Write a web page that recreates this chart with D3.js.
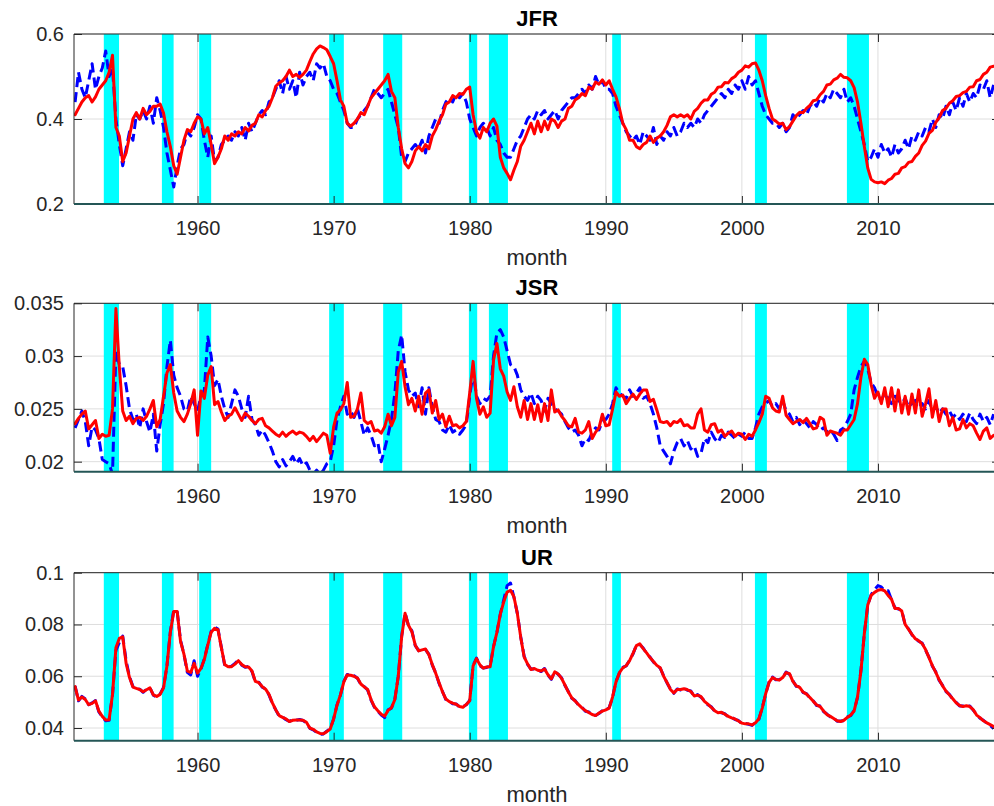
<!DOCTYPE html>
<html>
<head>
<meta charset="utf-8">
<script src="https://cdn.jsdelivr.net/npm/d3@7"></script>
<style>
  body { margin: 0; background: #fff; }
  svg { display: block; font-family: "Liberation Sans", Arial, sans-serif; }
</style>
</head>
<body>
<div id="chart"></div>
<script>
// quarterly observations, first one is 1951 Q1
const startYear = 1951;
const step = 0.25;

// recession shading (years)
const recStart = [1953.11, 1957.38, 1960.12, 1969.67, 1973.64, 1979.94, 1981.41, 1990.47, 2000.96, 2007.72];
const recEnd   = [1954.23, 1958.24, 1961.00, 1970.75, 1975.04, 1980.55, 1982.81, 1991.11, 2001.84, 2009.34];

const xTicks = [1960, 1970, 1980, 1990, 2000, 2010];

const jfrTicks = [0.2, 0.4, 0.6];
const jfrLabels = ["0.2", "0.4", "0.6"];
const jsrTicks = [0.02, 0.025, 0.03, 0.035];
const jsrLabels = ["0.02", "0.025", "0.03", "0.035"];
const urTicks = [0.04, 0.06, 0.08, 0.1];
const urLabels = ["0.04", "0.06", "0.08", "0.1"];

// job finding rate: data (blue) and model (red)
const jfrData = [
  0.44,0.51,0.47,0.45, 0.49,0.53,0.47,0.50, 0.52,0.56,0.50,0.52, 0.40,0.34,0.29,0.33,
  0.37,0.35,0.41,0.40, 0.42,0.40,0.43,0.39, 0.45,0.42,0.38,0.32, 0.28,0.24,0.29,0.33,
  0.34,0.37,0.36,0.38, 0.41,0.40,0.35,0.31, 0.36,0.30,0.31,0.34, 0.35,0.36,0.35,0.37,
  0.36,0.38,0.35,0.39, 0.37,0.39,0.41,0.42, 0.41,0.44,0.45,0.47, 0.49,0.46,0.50,0.47,
  0.49,0.45,0.51,0.48, 0.50,0.51,0.49,0.53, 0.52,0.53,0.50,0.49, 0.47,0.46,0.44,0.42,
  0.39,0.38,0.38,0.40, 0.41,0.42,0.43,0.45, 0.47,0.46,0.45,0.46, 0.47,0.44,0.41,0.38,
  0.31,0.30,0.32,0.33, 0.34,0.33,0.35,0.32, 0.36,0.38,0.40,0.39, 0.42,0.44,0.45,0.44,
  0.46,0.45,0.46,0.44, 0.40,0.38,0.36,0.38, 0.39,0.38,0.36,0.38, 0.35,0.34,0.32,0.31,
  0.31,0.33,0.35,0.36, 0.38,0.40,0.41,0.40, 0.42,0.41,0.42,0.40, 0.41,0.42,0.40,0.42,
  0.43,0.44,0.45,0.45, 0.46,0.47,0.46,0.48, 0.47,0.50,0.48,0.49, 0.47,0.47,0.46,0.43,
  0.41,0.39,0.37,0.36, 0.35,0.36,0.34,0.37, 0.36,0.35,0.38,0.34, 0.36,0.35,0.37,0.36,
  0.38,0.36,0.37,0.39, 0.38,0.39,0.38,0.40, 0.39,0.41,0.42,0.43, 0.44,0.45,0.46,0.45,
  0.47,0.46,0.48,0.47, 0.49,0.47,0.50,0.48, 0.49,0.46,0.43,0.41, 0.40,0.39,0.39,0.38,
  0.39,0.37,0.38,0.41, 0.40,0.41,0.42,0.41, 0.43,0.44,0.43,0.45, 0.44,0.46,0.45,0.47,
  0.46,0.45,0.47,0.44, 0.45,0.43,0.40,0.37, 0.34,0.30,0.31,0.33, 0.31,0.34,0.32,0.33,
  0.31,0.34,0.32,0.33, 0.35,0.33,0.36,0.35, 0.37,0.36,0.38,0.37, 0.40,0.38,0.41,0.40,
  0.43,0.41,0.44,0.42, 0.45,0.43,0.46,0.44, 0.46,0.45,0.48,0.47, 0.49,0.45,0.48
];
const jfrFit = [
  0.41,0.425,0.44,0.45, 0.455,0.44,0.452,0.47, 0.48,0.49,0.51,0.55, 0.38,0.36,0.30,0.32,
  0.36,0.40,0.415,0.40, 0.425,0.41,0.418,0.43, 0.43,0.435,0.414,0.37, 0.335,0.29,0.27,0.31,
  0.35,0.375,0.37,0.39, 0.405,0.40,0.365,0.38, 0.34,0.295,0.31,0.33, 0.36,0.35,0.365,0.36,
  0.37,0.365,0.38,0.372, 0.385,0.39,0.41,0.405, 0.42,0.43,0.45,0.477, 0.485,0.49,0.50,0.515,
  0.50,0.505,0.498,0.505, 0.515,0.535,0.553,0.565, 0.572,0.568,0.563,0.547, 0.53,0.49,0.445,0.43,
  0.39,0.383,0.39,0.40, 0.415,0.41,0.43,0.45, 0.46,0.47,0.48,0.49, 0.505,0.465,0.45,0.38,
  0.33,0.295,0.285,0.30, 0.325,0.335,0.325,0.34, 0.33,0.36,0.375,0.395, 0.41,0.435,0.44,0.455,
  0.45,0.46,0.458,0.47, 0.475,0.41,0.37,0.355, 0.38,0.37,0.39,0.40, 0.383,0.31,0.285,0.272,
  0.257,0.28,0.30,0.336, 0.35,0.37,0.39,0.365, 0.395,0.37,0.395,0.375, 0.40,0.395,0.38,0.395,
  0.40,0.425,0.43,0.445, 0.45,0.46,0.455,0.475, 0.47,0.487,0.482,0.492, 0.48,0.49,0.47,0.452,
  0.425,0.39,0.375,0.35, 0.35,0.335,0.33,0.34, 0.345,0.36,0.345,0.355, 0.36,0.37,0.385,0.405,
  0.41,0.405,0.41,0.405, 0.41,0.40,0.418,0.425, 0.437,0.445,0.445,0.458, 0.463,0.475,0.476,0.486,
  0.485,0.495,0.50,0.51, 0.515,0.525,0.522,0.53, 0.532,0.515,0.49,0.455, 0.425,0.40,0.395,0.388,
  0.39,0.375,0.382,0.395, 0.408,0.416,0.415,0.425, 0.432,0.443,0.445,0.457, 0.465,0.48,0.482,0.492,
  0.496,0.505,0.498,0.497, 0.49,0.474,0.44,0.39, 0.335,0.285,0.258,0.252, 0.25,0.252,0.248,0.256,
  0.26,0.27,0.272,0.285, 0.288,0.298,0.30,0.312, 0.32,0.338,0.348,0.366, 0.373,0.392,0.403,0.42,
  0.425,0.437,0.443,0.453, 0.455,0.462,0.465,0.475, 0.476,0.49,0.493,0.505, 0.51,0.522,0.524
];

// job separation rate
const jsrData = [
  0.0232,0.0240,0.0248,0.0238, 0.0215,0.0233,0.0230,0.0222, 0.0202,0.0200,0.0198,0.0188, 0.0305,0.0292,0.0290,0.0272,
  0.0250,0.0240,0.0245,0.0232, 0.0250,0.0238,0.0228,0.0245, 0.0210,0.0235,0.0255,0.0290, 0.0315,0.0282,0.0270,0.0262,
  0.0250,0.0248,0.0262,0.0255, 0.0248,0.0262,0.0268,0.0318, 0.0300,0.0272,0.0278,0.0262, 0.0250,0.0242,0.0255,0.0268,
  0.0262,0.0250,0.0242,0.0262, 0.0240,0.0235,0.0225,0.0230, 0.0225,0.0218,0.0210,0.0200, 0.0195,0.0202,0.0196,0.0200,
  0.0205,0.0198,0.0203,0.0196, 0.0199,0.0192,0.0188,0.0192, 0.0188,0.0192,0.0198,0.0200, 0.0215,0.0240,0.0252,0.0262,
  0.0245,0.0248,0.0242,0.0250, 0.0238,0.0225,0.0232,0.0225, 0.0215,0.0218,0.0200,0.0212, 0.0225,0.0240,0.0265,0.0305,
  0.0320,0.0285,0.0268,0.0262, 0.0265,0.0252,0.0270,0.0245, 0.0270,0.0252,0.0240,0.0238, 0.0230,0.0228,0.0235,0.0228,
  0.0230,0.0226,0.0230,0.0235, 0.0262,0.0285,0.0262,0.0255, 0.0260,0.0258,0.0262,0.0300, 0.0322,0.0325,0.0318,0.0305,
  0.0292,0.0290,0.0282,0.0268, 0.0262,0.0258,0.0265,0.0255, 0.0262,0.0258,0.0248,0.0260, 0.0255,0.0250,0.0248,0.0245,
  0.0238,0.0232,0.0228,0.0230, 0.0225,0.0215,0.0222,0.0220, 0.0228,0.0232,0.0230,0.0238, 0.0240,0.0245,0.0255,0.0270,
  0.0265,0.0262,0.0260,0.0268, 0.0262,0.0265,0.0270,0.0260, 0.0262,0.0255,0.0245,0.0232, 0.0215,0.0210,0.0205,0.0198,
  0.0210,0.0218,0.0222,0.0215, 0.0220,0.0212,0.0215,0.0205, 0.0208,0.0222,0.0218,0.0228, 0.0222,0.0218,0.0225,0.0223,
  0.0228,0.0225,0.0222,0.0226, 0.0224,0.0228,0.0222,0.0222, 0.0232,0.0245,0.0252,0.0255, 0.0258,0.0252,0.0255,0.0250,
  0.0258,0.0248,0.0245,0.0238, 0.0242,0.0235,0.0240,0.0236, 0.0232,0.0238,0.0235,0.0230, 0.0232,0.0228,0.0230,0.0226,
  0.0220,0.0230,0.0232,0.0238, 0.0245,0.0268,0.0280,0.0290, 0.0295,0.0288,0.0275,0.0270, 0.0262,0.0258,0.0265,0.0260,
  0.0255,0.0262,0.0258,0.0255, 0.0260,0.0252,0.0255,0.0258, 0.0252,0.0255,0.0250,0.0258, 0.0248,0.0252,0.0246,0.0250,
  0.0245,0.0248,0.0242,0.0245, 0.0240,0.0245,0.0238,0.0246, 0.0240,0.0236,0.0245,0.0238, 0.0242,0.0235,0.0245
];
const jsrFit = [
  0.0236,0.0241,0.0245,0.0248, 0.0231,0.0235,0.0239,0.0222, 0.0226,0.0224,0.0225,0.0250, 0.0345,0.0290,0.0248,0.0239,
  0.0243,0.0236,0.0241,0.0242, 0.0239,0.0243,0.0250,0.0258, 0.0233,0.0240,0.0262,0.0284, 0.0292,0.0265,0.0248,0.0242,
  0.0238,0.0245,0.0255,0.0268, 0.0225,0.0267,0.0260,0.0282, 0.0290,0.0254,0.0257,0.0247, 0.0239,0.0243,0.0245,0.0251,
  0.0245,0.0239,0.0246,0.0243, 0.0239,0.0236,0.0240,0.0241, 0.0234,0.0232,0.0229,0.0226, 0.0224,0.0228,0.0224,0.0227,
  0.0229,0.0226,0.0228,0.0227, 0.0224,0.0220,0.0224,0.0219, 0.0223,0.0227,0.0225,0.0208, 0.0233,0.0246,0.0249,0.0255,
  0.0275,0.0242,0.0243,0.0250, 0.0265,0.0239,0.0236,0.0238, 0.0229,0.0230,0.0227,0.0233, 0.0245,0.0234,0.0242,0.0285,
  0.0295,0.0271,0.0254,0.0260, 0.0248,0.0262,0.0245,0.0265, 0.0268,0.0246,0.0258,0.0240, 0.0245,0.0233,0.0243,0.0234,
  0.0235,0.0232,0.0234,0.0238, 0.0265,0.0295,0.0260,0.0245, 0.0252,0.0242,0.0246,0.0296, 0.0312,0.0288,0.0281,0.0266,
  0.0258,0.0271,0.0252,0.0242, 0.0258,0.0240,0.0255,0.0240, 0.0254,0.0238,0.0255,0.0239, 0.0268,0.0247,0.0249,0.0243,
  0.0239,0.0234,0.0233,0.0241, 0.0228,0.0227,0.0230,0.0238, 0.0222,0.0228,0.0232,0.0245, 0.0234,0.0235,0.0250,0.0266,
  0.0262,0.0263,0.0255,0.0260, 0.0264,0.0259,0.0264,0.0268, 0.0268,0.0257,0.0259,0.0249, 0.0238,0.0237,0.0238,0.0234,
  0.0238,0.0237,0.0240,0.0234, 0.0235,0.0232,0.0232,0.0245, 0.0250,0.0230,0.0228,0.0235, 0.0236,0.0228,0.0230,0.0224,
  0.0227,0.0229,0.0224,0.0227, 0.0226,0.0221,0.0226,0.0224, 0.0230,0.0237,0.0245,0.0262, 0.0260,0.0251,0.0248,0.0247,
  0.0262,0.0244,0.0240,0.0236, 0.0238,0.0240,0.0237,0.0241, 0.0236,0.0231,0.0232,0.0242, 0.0240,0.0225,0.0229,0.0228,
  0.0227,0.0225,0.0230,0.0230, 0.0235,0.0240,0.0255,0.0280, 0.0297,0.0292,0.0273,0.0260, 0.0266,0.0255,0.0270,0.0252,
  0.0270,0.0248,0.0268,0.0246, 0.0262,0.0245,0.0264,0.0246, 0.0268,0.0243,0.0255,0.0269, 0.0242,0.0258,0.0238,0.0250,
  0.0250,0.0234,0.0242,0.0230, 0.0231,0.0240,0.0232,0.0236, 0.0234,0.0227,0.0221,0.0229, 0.0232,0.0222,0.0225
];

// unemployment rate
const urData = [
  0.0562,0.0505,0.0522,0.0512, 0.0490,0.0497,0.0506,0.0462, 0.0443,0.0428,0.0430,0.0528, 0.0700,0.0730,0.0755,0.0660,
  0.0598,0.0560,0.0551,0.0550, 0.0538,0.0550,0.0556,0.0527, 0.0520,0.0532,0.0557,0.0640, 0.0772,0.0855,0.0852,0.0738,
  0.0685,0.0615,0.0605,0.0660, 0.0600,0.0628,0.0668,0.0722, 0.0773,0.0790,0.0782,0.0712, 0.0640,0.0635,0.0639,0.0650,
  0.0662,0.0643,0.0635,0.0638, 0.0618,0.0578,0.0577,0.0558, 0.0551,0.0528,0.0495,0.0470, 0.0445,0.0442,0.0432,0.0426,
  0.0432,0.0430,0.0433,0.0429, 0.0420,0.0399,0.0393,0.0383, 0.0376,0.0377,0.0388,0.0398, 0.0435,0.0490,0.0527,0.0580,
  0.0607,0.0603,0.0602,0.0592, 0.0568,0.0560,0.0547,0.0508, 0.0480,0.0465,0.0450,0.0440, 0.0470,0.0477,0.0512,0.0600,
  0.0755,0.0845,0.0795,0.0775, 0.0718,0.0699,0.0705,0.0703, 0.0685,0.0643,0.0613,0.0572, 0.0541,0.0510,0.0503,0.0494,
  0.0493,0.0481,0.0482,0.0490, 0.0507,0.0642,0.0670,0.0641, 0.0632,0.0634,0.0640,0.0714, 0.0770,0.0840,0.0895,0.0950,
  0.0960,0.0905,0.0843,0.0752, 0.0677,0.0646,0.0628,0.0628, 0.0625,0.0618,0.0630,0.0604, 0.0588,0.0619,0.0607,0.0594,
  0.0564,0.0541,0.0515,0.0506, 0.0488,0.0480,0.0465,0.0462, 0.0450,0.0449,0.0456,0.0467, 0.0468,0.0479,0.0518,0.0580,
  0.0612,0.0634,0.0640,0.0662, 0.0686,0.0720,0.0723,0.0709, 0.0688,0.0674,0.0655,0.0644, 0.0631,0.0602,0.0574,0.0551,
  0.0534,0.0551,0.0547,0.0554, 0.0546,0.0543,0.0522,0.0529, 0.0519,0.0505,0.0490,0.0482, 0.0465,0.0461,0.0459,0.0455,
  0.0443,0.0441,0.0433,0.0429, 0.0417,0.0418,0.0414,0.0410, 0.0422,0.0434,0.0479,0.0531, 0.0578,0.0597,0.0586,0.0587,
  0.0593,0.0616,0.0608,0.0582, 0.0561,0.0559,0.0537,0.0533, 0.0516,0.0505,0.0487,0.0485, 0.0464,0.0454,0.0443,0.0439,
  0.0426,0.0427,0.0428,0.0443, 0.0448,0.0468,0.0518,0.0622, 0.0765,0.0875,0.0915,0.0935, 0.0950,0.0945,0.0930,0.0930,
  0.0895,0.0864,0.0860,0.0854, 0.0798,0.0783,0.0760,0.0747, 0.0735,0.0728,0.0701,0.0674, 0.0639,0.0617,0.0584,0.0565,
  0.0541,0.0530,0.0511,0.0499, 0.0485,0.0485,0.0484,0.0485, 0.0469,0.0452,0.0438,0.0430, 0.0418,0.0410,0.0398
];
const urFit = [
  0.0560,0.0508,0.0520,0.0510, 0.0490,0.0495,0.0505,0.0465, 0.0445,0.0431,0.0432,0.0530, 0.0710,0.0746,0.0752,0.0650,
  0.0595,0.0558,0.0553,0.0549, 0.0540,0.0548,0.0555,0.0528, 0.0522,0.0530,0.0555,0.0640, 0.0770,0.0850,0.0850,0.0735,
  0.0685,0.0620,0.0615,0.0650, 0.0612,0.0630,0.0665,0.0720, 0.0770,0.0785,0.0780,0.0710, 0.0645,0.0637,0.0637,0.0647,
  0.0660,0.0645,0.0637,0.0636, 0.0620,0.0580,0.0575,0.0560, 0.0550,0.0530,0.0497,0.0470, 0.0448,0.0441,0.0435,0.0425,
  0.0430,0.0431,0.0431,0.0430, 0.0422,0.0400,0.0395,0.0385, 0.0379,0.0378,0.0386,0.0396, 0.0435,0.0488,0.0528,0.0578,
  0.0605,0.0604,0.0600,0.0593, 0.0570,0.0559,0.0549,0.0510, 0.0482,0.0467,0.0453,0.0446, 0.0468,0.0478,0.0510,0.0600,
  0.0753,0.0843,0.0797,0.0772, 0.0720,0.0698,0.0702,0.0705, 0.0683,0.0645,0.0612,0.0575, 0.0540,0.0512,0.0502,0.0496,
  0.0492,0.0483,0.0480,0.0491, 0.0505,0.0640,0.0668,0.0644, 0.0631,0.0636,0.0637,0.0714, 0.0770,0.0840,0.0887,0.0925,
  0.0932,0.0907,0.0843,0.0750, 0.0675,0.0648,0.0626,0.0630, 0.0623,0.0620,0.0628,0.0606, 0.0590,0.0617,0.0609,0.0592,
  0.0566,0.0539,0.0517,0.0504, 0.0490,0.0478,0.0467,0.0460, 0.0452,0.0448,0.0458,0.0465, 0.0470,0.0477,0.0520,0.0578,
  0.0614,0.0632,0.0641,0.0660, 0.0688,0.0718,0.0725,0.0707, 0.0690,0.0672,0.0657,0.0642, 0.0633,0.0600,0.0576,0.0549,
  0.0536,0.0549,0.0549,0.0552, 0.0548,0.0541,0.0524,0.0527, 0.0521,0.0503,0.0492,0.0480, 0.0467,0.0459,0.0461,0.0453,
  0.0445,0.0439,0.0435,0.0427, 0.0419,0.0416,0.0416,0.0412, 0.0420,0.0436,0.0477,0.0533, 0.0576,0.0595,0.0588,0.0585,
  0.0595,0.0614,0.0610,0.0580, 0.0563,0.0557,0.0539,0.0531, 0.0518,0.0503,0.0489,0.0483, 0.0466,0.0452,0.0445,0.0437,
  0.0428,0.0425,0.0430,0.0441, 0.0450,0.0466,0.0520,0.0620, 0.0765,0.0875,0.0912,0.0924, 0.0932,0.0935,0.0930,0.0912,
  0.0897,0.0862,0.0862,0.0852, 0.0800,0.0781,0.0762,0.0745, 0.0737,0.0726,0.0703,0.0672, 0.0641,0.0615,0.0586,0.0563,
  0.0543,0.0528,0.0513,0.0497, 0.0487,0.0483,0.0486,0.0483, 0.0471,0.0450,0.0440,0.0428, 0.0420,0.0413,0.0406
];

const width = 994;
const height = 806;
const left = 74;
const right = 1000;
const ink = "#262626";

const svg = d3.select("#chart").append("svg").attr("width", width).attr("height", height);
svg.append("rect").attr("width", width).attr("height", height).attr("fill", "#fff");

const x = d3.scaleLinear().domain([1950.92, 2018.97]).range([left, right]);

const panels = [
  { title: "JFR", top: 34, bottom: 204, domain: [0.2, 0.6], ticks: jfrTicks, labels: jfrLabels, blue: jfrData, red: jfrFit },
  { title: "JSR", top: 303.3, bottom: 471.7, domain: [0.01905, 0.035], ticks: jsrTicks, labels: jsrLabels, blue: jsrData, red: jsrFit },
  { title: "UR", top: 572.7, bottom: 740.7, domain: [0.0351, 0.1], ticks: urTicks, labels: urLabels, blue: urData, red: urFit }
];

panels.forEach((p, i) => {
  const y = d3.scaleLinear().domain(p.domain).range([p.bottom, p.top]);
  const h = p.bottom - p.top;
  const g = svg.append("g");

  svg.append("clipPath").attr("id", "clip" + i)
    .append("rect").attr("x", left).attr("y", p.top).attr("width", right - left).attr("height", h);

  // grid
  g.selectAll(".vgrid").data(xTicks).join("line")
    .attr("x1", d => x(d)).attr("x2", d => x(d))
    .attr("y1", p.top).attr("y2", p.bottom)
    .attr("stroke", "#dedede").attr("stroke-width", 1);
  g.selectAll(".hgrid").data(p.ticks).join("line")
    .attr("x1", left).attr("x2", right)
    .attr("y1", d => y(d)).attr("y2", d => y(d))
    .attr("stroke", "#dedede").attr("stroke-width", 1);

  // recession bands
  g.append("g").selectAll("rect").data(recStart).join("rect")
    .attr("x", d => x(d))
    .attr("width", (d, k) => x(recEnd[k]) - x(d))
    .attr("y", p.top).attr("height", h)
    .attr("fill", "#00ffff");

  const line = d3.line()
    .x((d, k) => x(startYear + k * step))
    .y(d => y(d));

  const lines = g.append("g").attr("clip-path", `url(#clip${i})`);
  lines.append("path").datum(p.blue)
    .attr("d", line).attr("fill", "none")
    .attr("stroke", "#0000ff").attr("stroke-width", 3)
    .attr("stroke-dasharray", "10,5")
    .attr("stroke-linejoin", "round");
  lines.append("path").datum(p.red)
    .attr("d", line).attr("fill", "none")
    .attr("stroke", "#ff0000").attr("stroke-width", 3)
    .attr("stroke-linejoin", "round").attr("stroke-linecap", "round");

  // axes
  const ax = g.append("g").attr("transform", `translate(0,${p.bottom})`)
    .call(d3.axisBottom(x).tickValues(xTicks).tickFormat(d3.format("d"))
      .tickSizeInner(-8).tickSizeOuter(0).tickPadding(17));
  const axTop = g.append("g").attr("transform", `translate(0,${p.top})`)
    .call(d3.axisTop(x).tickValues(xTicks).tickFormat("").tickSizeInner(-8).tickSizeOuter(0));
  const ay = g.append("g").attr("transform", `translate(${left},0)`)
    .call(d3.axisLeft(y).tickValues(p.ticks).tickFormat((d, k) => p.labels[k])
      .tickSizeInner(-8).tickSizeOuter(0).tickPadding(10));
  const ayR = g.append("g").attr("transform", `translate(${right},0)`)
    .call(d3.axisRight(y).tickValues(p.ticks).tickFormat("").tickSizeInner(-8).tickSizeOuter(0));

  [ax, axTop, ay, ayR].forEach(a => {
    a.select(".domain").remove();
    a.selectAll("line").attr("stroke", ink);
    a.selectAll("text").attr("fill", ink)
      .style("font-family", '"Liberation Sans", Arial, sans-serif')
      .style("font-size", "20px");
  });

  // box
  g.append("line").attr("x1", left).attr("x2", right).attr("y1", p.top).attr("y2", p.top)
    .attr("stroke", ink).attr("stroke-width", 1);
  g.append("line").attr("x1", left).attr("x2", left).attr("y1", p.top).attr("y2", p.bottom)
    .attr("stroke", ink).attr("stroke-width", 1);
  g.append("line").attr("x1", left).attr("x2", right).attr("y1", p.bottom).attr("y2", p.bottom)
    .attr("stroke", "#245656").attr("stroke-width", 2);

  // title and x label
  g.append("text").attr("x", (left + right) / 2).attr("y", p.top - 8)
    .attr("text-anchor", "middle").attr("font-weight", "bold")
    .attr("font-size", 22).attr("fill", "#000").text(p.title);
  g.append("text").attr("x", (left + right) / 2).attr("y", p.bottom + 61)
    .attr("text-anchor", "middle").attr("font-size", 22)
    .attr("fill", ink).text("month");
});
</script>
</body>
</html>
